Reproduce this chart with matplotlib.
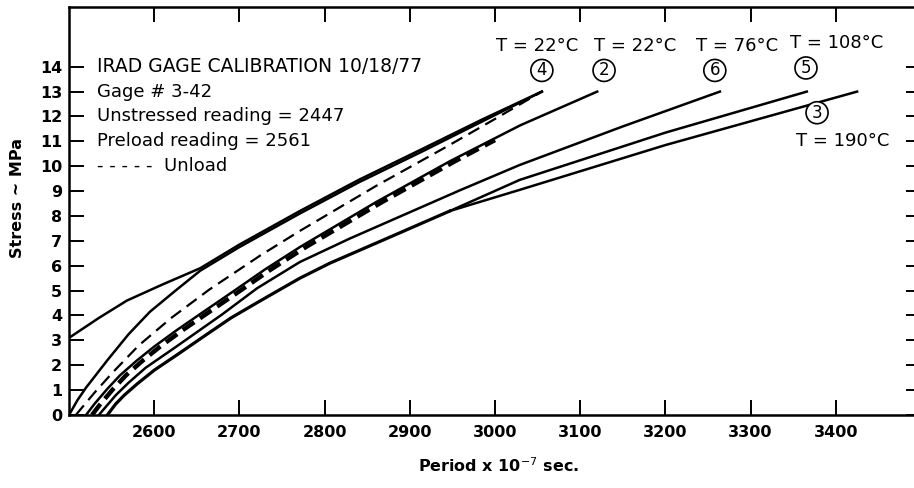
import numpy as np
import matplotlib.pyplot as plt

plt.rcParams['font.family'] = 'DejaVu Sans'
plt.rcParams['lines.scale_dashes'] = False

##------------ curves: period (x 1e-7 s) vs stress (MPa) ------------##
# gage 4, T = 22 C, loading from zero
p4 = [2500, 2510, 2520, 2545, 2570, 2595, 2625, 2654, 2700, 2771, 2840, 2915, 2985, 3055]
s4 = [0.0, 0.6, 1.1, 2.2, 3.25, 4.15, 5.0, 5.8, 6.75, 8.1, 9.35, 10.6, 11.8, 13.0]
# gage 4, loading from preload (starts at 3 MPa, joins the curve above)
p4p = [2500, 2535, 2568, 2610, 2654, 2700, 2771, 2840, 2915, 2985, 3055]
s4p = [3.1, 3.9, 4.6, 5.25, 5.9, 6.85, 8.2, 9.45, 10.7, 11.88, 13.0]
# gage 4 unload
p4u = [2508, 2530, 2551, 2582, 2620, 2665, 2724, 2771, 2860, 2944, 3000, 3055]
s4u = [0.0, 0.9, 1.7, 2.8, 3.9, 5.05, 6.4, 7.4, 9.2, 10.8, 11.9, 13.0]
# gage 2, T = 22 C
p2 = [2520, 2530, 2545, 2560, 2580, 2600, 2626, 2660, 2692, 2730, 2771, 2860, 2947, 3030, 3120]
s2 = [0.0, 0.45, 1.05, 1.6, 2.2, 2.75, 3.4, 4.2, 4.95, 5.85, 6.75, 8.55, 10.2, 11.65, 13.0]
# gage 2 unload
p2u = [2527, 2537, 2552, 2567, 2587, 2607, 2633, 2667, 2699, 2737, 2778, 2867, 2953, 3000]
s2u = [0.0, 0.45, 1.05, 1.6, 2.2, 2.75, 3.4, 4.2, 4.95, 5.85, 6.75, 8.55, 10.2, 11.05]
# gage 6, T = 76 C
p6 = [2535, 2545, 2555, 2570, 2590, 2626, 2680, 2721, 2771, 2830, 2900, 2960, 3029, 3150, 3264]
s6 = [0.0, 0.4, 0.8, 1.3, 1.9, 2.75, 4.05, 5.1, 6.15, 7.1, 8.15, 9.05, 10.05, 11.6, 13.0]
# gages 5 (T = 108 C) and 3 (T = 190 C) share the lower branch
p53 = [2545, 2555, 2565, 2580, 2600, 2626, 2660, 2690, 2720, 2748, 2771, 2806, 2880, 2947]
s53 = [0.0, 0.45, 0.8, 1.25, 1.8, 2.4, 3.2, 3.9, 4.5, 5.05, 5.5, 6.1, 7.2, 8.2]
p5 = [2947, 3029, 3200, 3366]
s5 = [8.2, 9.45, 11.35, 13.0]
p3 = [2947, 3029, 3200, 3425]
s3 = [8.2, 9.05, 10.85, 13.0]

xticks = [2600, 2700, 2800, 2900, 3000, 3100, 3200, 3300, 3400]
yticks = list(range(0, 15))

notes = ['IRAD GAGE CALIBRATION 10/18/77', 'Gage # 3-42',
         'Unstressed reading = 2447', 'Preload reading = 2561',
         '- - - - -  Unload']
tags = [('4', 'T = 22°C', 3055, 3050),
        ('2', 'T = 22°C', 3128, 3165),
        ('6', 'T = 76°C', 3258, 3284),
        ('5', 'T = 108°C', 3365, 3401)]

##------------ figure ------------##
fig = plt.figure(figsize=(9.14, 4.88), dpi=100)
ax = fig.add_axes([69/914, 73/488, 852/914, 408/488])

lw = 1.8
ax.plot(p4, s4, color='k', lw=lw)
ax.plot(p4p, s4p, color='k', lw=lw)
ax.plot(p4u, s4u, color='k', lw=1.6, ls=(0, (9, 5)))
ax.plot(p2, s2, color='k', lw=lw)
ax.plot(p2u, s2u, color='k', lw=3.2, ls=(0, (10, 5)))
ax.plot(p6, s6, color='k', lw=lw)
ax.plot(p53, s53, color='k', lw=2.3)
ax.plot(p5, s5, color='k', lw=lw)
ax.plot(p3, s3, color='k', lw=lw)

ax.set_xlim(2500, 3500)
ax.set_ylim(0, 16.4)
ax.set_xticks(xticks)
ax.set_yticks(yticks)
ax.tick_params(direction='in', length=11, width=1.4, top=True, right=True,
               labeltop=False, labelright=False, labelsize=11.5, pad=5)
for lab in ax.get_xticklabels() + ax.get_yticklabels():
    lab.set_fontweight('bold')
ax.tick_params(axis='x', pad=7)
for side in ['left', 'bottom', 'top']:
    ax.spines[side].set_linewidth(1.8)
ax.spines['right'].set_visible(False)

# header block, one line per stress unit
for i, txt in enumerate(notes):
    ax.text(2533, 14 - i, txt, fontsize=13.5 if i == 0 else 13,
            va='center', ha='left')

# gage numbers and temperatures at the curve ends
for num, temp, xn, xt in tags:
    yt = 14.95 if num == '5' else 14.85
    ax.text(xt, yt, temp, fontsize=13, ha='center', va='center')
    ax.text(xn, yt - 1.0, num, fontsize=12, ha='center', va='center',
            bbox=dict(boxstyle='circle,pad=0.12', fc='white', ec='k', lw=1.2))
ax.text(3378, 12.15, '3', fontsize=12, ha='center', va='center',
        bbox=dict(boxstyle='circle,pad=0.12', fc='white', ec='k', lw=1.2))
ax.text(3408, 11.0, 'T = 190°C', fontsize=13, ha='center', va='center')

fig.text(18/914, 1 - 198/488, 'Stress ~ MPa', rotation=90, fontsize=11.5,
         fontweight='bold', ha='center', va='center')
fig.text(499/914, 1 - 466/488, r'Period x 10$^{-7}$ sec.', fontsize=11.5,
         fontweight='bold', ha='center', va='center')

fig.savefig('out.png', dpi=100)
